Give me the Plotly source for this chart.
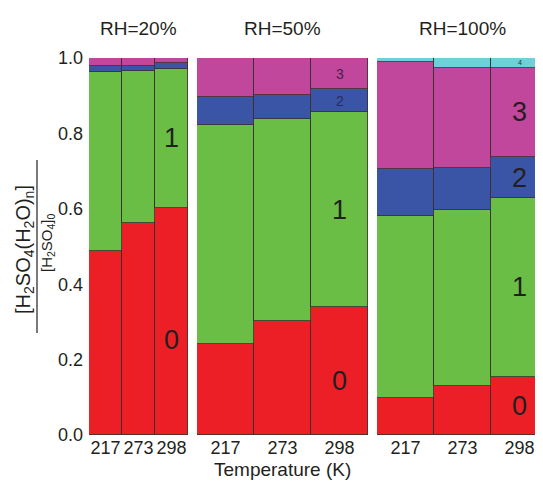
import plotly.graph_objects as go

temps = ["217", "273", "298"]
panel_titles = ["RH=20%", "RH=50%", "RH=100%"]
cluster_names = ["0", "1", "2", "3", "4"]

# fraction of H2SO4 in clusters with n water molecules, per temperature
rh20_n0 = [0.489, 0.563, 0.603]
rh20_n1 = [0.473, 0.403, 0.368]
rh20_n2 = [0.016, 0.012, 0.017]
rh20_n3 = [0.022, 0.022, 0.012]
rh20_n4 = [0.000, 0.000, 0.000]

rh50_n0 = [0.241, 0.302, 0.340]
rh50_n1 = [0.581, 0.536, 0.516]
rh50_n2 = [0.075, 0.064, 0.061]
rh50_n3 = [0.103, 0.098, 0.083]
rh50_n4 = [0.000, 0.000, 0.000]

rh100_n0 = [0.099, 0.130, 0.155]
rh100_n1 = [0.482, 0.467, 0.473]
rh100_n2 = [0.124, 0.110, 0.110]
rh100_n3 = [0.284, 0.266, 0.236]
rh100_n4 = [0.011, 0.027, 0.026]

y_ticks = [0.0, 0.2, 0.4, 0.6, 0.8, 1.0]

panels = [
    [rh20_n0, rh20_n1, rh20_n2, rh20_n3, rh20_n4],
    [rh50_n0, rh50_n1, rh50_n2, rh50_n3, rh50_n4],
    [rh100_n0, rh100_n1, rh100_n2, rh100_n3, rh100_n4],
]

colors = ["#EC1F26", "#6ABD45", "#3A55A5", "#C0479B", "#6FD0D8"]
outline = "#3a3030"
text_col = "#231F20"
font_family = "Liberation Sans, Arial, sans-serif"

# label specs per panel: (cluster index, fraction inside segment, font size, colour)
labels = [
    [(0, 0.42, 27, text_col), (1, 0.5, 27, text_col)],
    [(0, 0.42, 27, text_col), (1, 0.5, 27, text_col), (2, 0.5, 14, "#2a2a60"), (3, 0.5, 14, "#4a2050")],
    [(0, 0.5, 27, text_col), (1, 0.5, 27, text_col), (2, 0.5, 27, text_col), (3, 0.5, 27, text_col), (4, 0.5, 7, "#333333")],
]

W = 535.0
H = 472.0
# page is offset by 8px body margin, so figure pixels = screen pixels - 8
left_px = [81, 189, 369]
right_px = [180, 360, 535]
domains = [[left_px[i] / W, right_px[i] / W] for i in range(3)]
bar_px = [33, 57, 57]
ranges = [[-0.5, -0.5 + (right_px[i] - left_px[i]) / bar_px[i]] for i in range(3)]
xpos = list(range(len(temps)))

margin_t = 50
margin_b = H - 50 - 377
plot_h = H - margin_t - margin_b

fig = go.Figure()
annotations = []
for p, series in enumerate(panels):
    xa = "x" if p == 0 else f"x{p + 1}"
    for k, vals in enumerate(series):
        fig.add_trace(go.Bar(
            x=xpos, y=vals, xaxis=xa, yaxis="y",
            marker=dict(color=colors[k], line=dict(color=outline, width=0.8)),
            showlegend=False, name=cluster_names[k], hoverinfo="skip",
        ))
    last = len(temps) - 1
    for (k, frac, fs, col) in labels[p]:
        base = sum(series[j][last] for j in range(k))
        yv = base + frac * series[k][last]
        annotations.append(dict(
            x=xpos[last], y=yv, xref=xa, yref="y", text=cluster_names[k],
            xanchor="center", yanchor="middle",
            showarrow=False, font=dict(size=fs, color=col, family=font_family),
        ))
    # panel titles centred over the full 3-bar width of each panel
    cx = (left_px[p] + 3 * bar_px[p] / 2) / W
    annotations.append(dict(
        x=cx, y=1.0, xref="paper", yref="paper", yshift=30,
        xanchor="center", yanchor="middle",
        text=panel_titles[p], showarrow=False,
        font=dict(size=19, color=text_col, family=font_family),
    ))

bottom_px = H - margin_b  # figure y of plot bottom
# y-axis title as a fraction
annotations.append(dict(
    x=16 / W, y=(bottom_px - 242) / plot_h,
    xref="paper", yref="paper", xanchor="center", yanchor="middle",
    text="[H<sub>2</sub>SO<sub>4</sub>(H<sub>2</sub>O)<sub>n</sub>]", textangle=-90,
    showarrow=False, font=dict(size=20, color=text_col, family=font_family),
))
annotations.append(dict(
    x=39 / W, y=(bottom_px - 235) / plot_h,
    xref="paper", yref="paper", xanchor="center", yanchor="middle",
    text="[H<sub>2</sub>SO<sub>4</sub>]<sub>0</sub>", textangle=-90,
    showarrow=False, font=dict(size=15, color=text_col, family=font_family),
))
annotations.append(dict(
    x=275 / W, y=0, xref="paper", yref="paper", yshift=-34,
    xanchor="center", yanchor="middle",
    text="Temperature (K)", showarrow=False,
    font=dict(size=19, color=text_col, family=font_family),
))

layout = dict(
    width=int(W), height=int(H),
    margin=dict(l=0, r=0, t=margin_t, b=margin_b),
    paper_bgcolor="white", plot_bgcolor="white",
    barmode="stack", bargap=0,
    showlegend=False,
    annotations=annotations,
    yaxis=dict(
        range=[0, 1], tickvals=y_ticks, ticktext=[f"{v:.1f}" for v in y_ticks],
        showgrid=False, zeroline=False, ticks="", showline=False,
        anchor="x", ticklabelstandoff=5,
        tickfont=dict(size=18, color=text_col, family=font_family),
    ),
)
for p in range(3):
    key = "xaxis" if p == 0 else f"xaxis{p + 1}"
    layout[key] = dict(
        domain=domains[p], range=ranges[p], anchor="y",
        tickvals=xpos, ticktext=temps,
        showgrid=False, zeroline=False, ticks="", showline=False,
        tickfont=dict(size=18, color=text_col, family=font_family),
    )

fig.update_layout(**layout)
fig.add_shape(type="line", xref="paper", yref="paper", x0=29 / W, x1=29 / W,
              y0=(bottom_px - 152) / plot_h, y1=(bottom_px - 325) / plot_h,
              line=dict(color=text_col, width=1.2))
fig.write_html("out.html")
